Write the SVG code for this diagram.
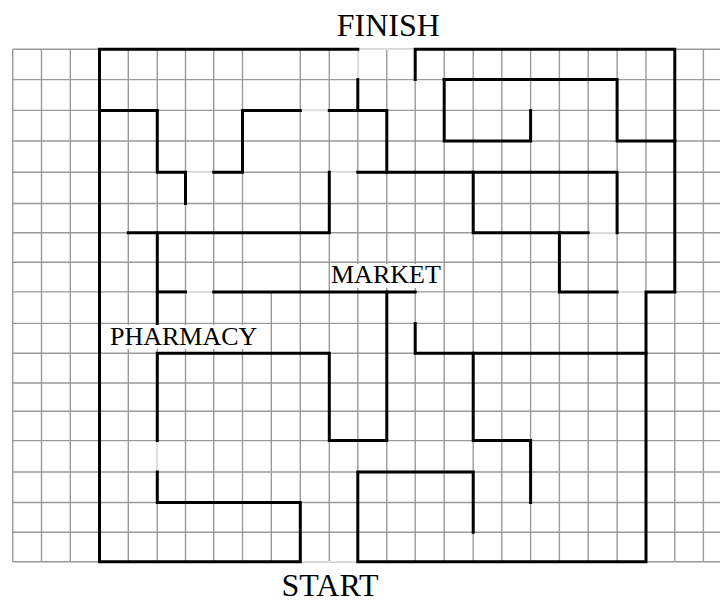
<svg xmlns="http://www.w3.org/2000/svg" width="720" height="603" viewBox="0 0 720 603">
<style>
.grid{stroke:#9a9a9a;stroke-width:1.4;fill:none}
.gap{stroke:#e0e0e0;stroke-width:1.6;fill:none}
.wall{stroke:#000;stroke-width:3;fill:none;stroke-linecap:square;stroke-linejoin:miter}
.lbl{font-family:"Liberation Serif","Times New Roman",serif;fill:#000}
.bg{fill:#fff}
</style>
<rect width="720" height="603" fill="#fff"/>
<g id="grid">
<path class="grid" d="M12.7 49.3H720M12.7 79.6H720M12.7 110.4H720M12.7 141H720M12.7 172.3H720M12.7 203.5H720M12.7 232.8H720M12.7 262.3H720M12.7 291.9H720M12.7 323.4H720M12.7 353.3H720M12.7 383H720M12.7 411.2H720M12.7 440.6H720M12.7 472H720M12.7 502.5H720M12.7 532.2H720M12.7 561.7H720"/>
<path class="grid" d="M12.7 49.3V561.7M41.5 49.3V561.7M70.3 49.3V561.7M99.5 49.3V561.7M128.3 49.3V561.7M157.3 49.3V561.7M185.5 49.3V561.7M213.7 49.3V561.7M242.5 49.3V561.7M271.3 291.9V561.7M300.3 49.3V561.7M329.3 49.3V561.7M357.8 49.3V561.7M386.8 49.3V561.7M415.2 49.3V561.7M444.2 49.3V561.7M473.2 49.3V561.7M501.8 49.3V561.7M530.6 49.3V561.7M559.4 49.3V561.7M588.2 49.3V561.7M617.1 49.3V561.7M646 49.3V561.7M674.8 49.3V561.7M703.4 49.3V561.7"/>
<path class="gap" d="M357.8 49.3H415.2M357.8 49.3V79.6M300.3 110.4H329.3M185.5 172.3H213.7M329.3 172.3H357.8M185.5 291.9H213.7M588.2 232.8H617.1M617.1 291.9H646M157.3 440.6V472M300.3 561.7H357.8"/>
</g>
<g id="walls">
<path class="wall" d="M157.3 472V502.5H300.3V561.7H99.5V49.3H357.8"/>
<path class="wall" d="M415.2 79.6V49.3H674.8V291.9H646V561.7H357.8V472H473.2V532.2"/>
<path class="wall" d="M99.5 110.4H157.3V172.3H185.5V203.5"/>
<path class="wall" d="M213.7 172.3H242.5V110.4H300.3"/>
<path class="wall" d="M329.3 110.4H386.8V172.3"/>
<path class="wall" d="M357.8 79.6V110.4"/>
<path class="wall" d="M357.8 172.3H617.1V232.8"/>
<path class="wall" d="M329.3 172.3V232.8H128.3"/>
<path class="wall" d="M157.3 232.8V323.4"/>
<path class="wall" d="M157.3 291.9H185.5"/>
<path class="wall" d="M213.7 291.9H415.2"/>
<path class="wall" d="M386.8 291.9V440.6H329.3V353.3H157.3V440.6"/>
<path class="wall" d="M415.2 323.4V353.3H646"/>
<path class="wall" d="M473.2 353.3V440.6H530.6V502.5"/>
<path class="wall" d="M444.2 79.6H617.1V141H674.8"/>
<path class="wall" d="M444.2 79.6V141H530.6V110.4"/>
<path class="wall" d="M473.2 172.3V232.8H588.2"/>
<path class="wall" d="M559.4 232.8V291.9H617.1"/>
</g>
<g id="finish">
<text class="lbl" x="388.3" y="36" font-size="32" text-anchor="middle">FINISH</text>
</g>
<g id="start">
<text class="lbl" x="330" y="596" font-size="32" text-anchor="middle">START</text>
</g>
<g id="market">
<rect class="bg" x="330" y="264" width="112" height="24"/>
<text class="lbl" x="331" y="283.3" font-size="26">MARKET</text>
</g>
<g id="pharmacy">
<rect class="bg" x="108" y="325" width="152" height="24"/>
<text class="lbl" x="110" y="345" font-size="26">PHARMACY</text>
</g>
</svg>
